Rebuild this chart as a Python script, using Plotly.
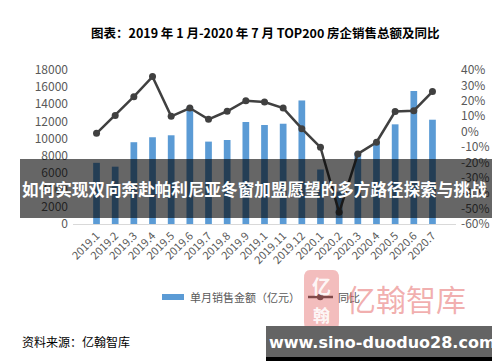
import plotly.graph_objects as go

categories = ["2019.1", "2019.2", "2019.3", "2019.4", "2019.5", "2019.6", "2019.7",
              "2019.8", "2019.9", "2019.10", "2019.11", "2019.12", "2020.1", "2020.2",
              "2020.3", "2020.4", "2020.5", "2020.6", "2020.7"]
tick_labels = ["2019.1", "2019.2", "2019.3", "2019.4", "2019.5", "2019.6", "2019.7",
               "2019.8", "2019.9", "2019.1", "2019.11", "2019.12", "2020.1", "2020.2",
               "2020.3", "2020.4", "2020.5", "2020.6", "2020.7"]
sales = [7150, 6700, 9560, 10140, 10370, 13660, 9630, 9820, 11920, 11570,
         11720, 14440, 6370, 3800, 8310, 9480, 11650, 15560, 12190]
yoy = [-0.011, 0.105, 0.227, 0.357, 0.099, 0.153, 0.08, 0.132, 0.201, 0.192,
       0.153, 0.019, -0.102, -0.524, -0.145, -0.069, 0.13, 0.136, 0.26]
left_ticks = [0, 2000, 4000, 6000, 8000, 10000, 12000, 14000, 16000, 18000]
left_tick_text = ["0", "2000", "4000", "6000", "8000", "10000", "12000", "14000", "16000", "18000"]
right_ticks = [-0.6, -0.5, -0.4, -0.3, -0.2, -0.1, 0, 0.1, 0.2, 0.3, 0.4]
right_tick_text = ["-60%", "-50%", "-40%", "-30%", "-20%", "-10%", "0%", "10%", "20%", "30%", "40%"]

title_text = "图表：2019 年 1 月-2020 年 7 月 TOP200 房企销售总额及同比"
bar_name = "单月销售金额（亿元）"
line_name = "同比"
source_text = "资料来源：亿翰智库"
banner_text = "如何实现双向奔赴帕利尼亚冬窗加盟愿望的多方路径探索与挑战"
site_text = "www.sino-duoduo28.com"
logo_text = "亿翰智库"

W, H = 500, 362
L, R, T, B = 65, 448, 62, 216
FONT = "Noto Sans CJK SC"
BLUE = "#5B9BD5"
LINE = "#404040"
GRAY = "#595959"


def px(x):
    return (x - L) / (R - L)


def py(y):
    return (B - y) / (B - T)


fig = go.Figure()
fig.add_trace(go.Bar(x=categories, y=sales, name=bar_name, marker_color=BLUE,
                     marker_line_width=0, yaxis="y", showlegend=False))
fig.add_trace(go.Scatter(x=categories, y=yoy, name=line_name, mode="lines+markers",
                         line=dict(color=LINE, width=2.5),
                         marker=dict(color=LINE, size=7), yaxis="y2", showlegend=False))

shapes = []
annotations = []

# title
annotations.append(dict(x=px(257), y=py(24), xref="paper", yref="paper", text="<b>" + title_text + "</b>",
                        showarrow=False, font=dict(family=FONT, size=12.5, color="#000000"),
                        xanchor="center", yanchor="middle"))

# legend (manual)
shapes.append(dict(type="rect", xref="paper", yref="paper", x0=px(154), x1=px(176), y0=py(286), y1=py(292),
                   fillcolor=BLUE, line=dict(width=0)))
annotations.append(dict(x=px(180), y=py(289), xref="paper", yref="paper", text=bar_name, showarrow=False,
                        font=dict(family=FONT, size=11, color=GRAY), xanchor="left", yanchor="middle"))
shapes.append(dict(type="line", xref="paper", yref="paper", x0=px(300), x1=px(325), y0=py(289), y1=py(289),
                   line=dict(color=LINE, width=2.5)))
shapes.append(dict(type="circle", xref="paper", yref="paper", x0=px(309), x1=px(315.5), y0=py(285.8), y1=py(292.2),
                   fillcolor=LINE, line=dict(width=0)))
annotations.append(dict(x=px(328), y=py(289), xref="paper", yref="paper", text=line_name, showarrow=False,
                        font=dict(family=FONT, size=11, color=GRAY), xanchor="left", yanchor="middle"))

# banner overlay
shapes.append(dict(type="rect", xref="paper", yref="paper", x0=px(12), x1=px(488), y0=py(151), y1=py(210),
                   fillcolor="rgba(0,0,0,0.6)", line=dict(width=0), layer="above"))
annotations.append(dict(x=px(12), y=py(181), xref="paper", yref="paper", text="<b>" + banner_text + "</b>",
                        showarrow=False, font=dict(family=FONT, size=16.6, color="#FFFFFF"),
                        xanchor="left", yanchor="middle"))

# logo watermark
shapes.append(dict(type="path", xref="paper", yref="paper",
                   path="M {a},{b} L {c},{b} Q {d},{b} {d},{e} L {d},{f} Q {d},{g} {c},{g} L {a},{g} Q {h},{g} {h},{f} L {h},{e} Q {h},{b} {a},{b} Z".format(
                       a=px(302), c=px(325), d=px(331), h=px(296), b=py(262), e=py(270), f=py(314), g=py(322)),
                   fillcolor="rgba(225,90,90,0.4)", line=dict(width=0), layer="above"))
annotations.append(dict(x=px(313.5), y=py(277), xref="paper", yref="paper", text="<b>亿</b>", showarrow=False,
                        font=dict(family=FONT, size=19, color="rgba(255,255,255,0.9)"), xanchor="center", yanchor="middle"))
annotations.append(dict(x=px(313.5), y=py(306), xref="paper", yref="paper", text="<b>翰</b>", showarrow=False,
                        font=dict(family=FONT, size=17, color="rgba(255,255,255,0.9)"), xanchor="center", yanchor="middle"))
annotations.append(dict(x=px(398), y=py(290), xref="paper", yref="paper", text=logo_text, showarrow=False,
                        font=dict(family=FONT, size=30, color="rgba(228,95,95,0.5)"), xanchor="center", yanchor="middle"))

# source
annotations.append(dict(x=px(12), y=py(333), xref="paper", yref="paper", text=source_text, showarrow=False,
                        font=dict(family=FONT, size=12, color="#000000"), xanchor="left", yanchor="middle"))

# site box
shapes.append(dict(type="rect", xref="paper", yref="paper", x0=px(258), x1=px(491), y0=py(318), y1=py(349),
                   fillcolor="#646464", line=dict(width=0), layer="above"))
shapes.append(dict(type="rect", xref="paper", yref="paper", x0=px(258), x1=px(491), y0=py(349), y1=py(353),
                   fillcolor="#000000", line=dict(width=0), layer="above"))
annotations.append(dict(x=px(374), y=py(334), xref="paper", yref="paper", text="<b>" + site_text + "</b>",
                        showarrow=False, font=dict(family="DejaVu Sans", size=16, color="#FFFFFF"),
                        xanchor="center", yanchor="middle"))

fig.update_layout(
    width=W, height=H, autosize=False,
    margin=dict(l=L, r=W - R, t=T, b=H - B, pad=0),
    paper_bgcolor="#FFFFFF", plot_bgcolor="#FFFFFF",
    bargap=0.64,
    showlegend=False,
    font=dict(family=FONT, color=GRAY),
    xaxis=dict(type="category", categoryorder="array", categoryarray=categories,
               tickvals=categories, ticktext=tick_labels, tickangle=-45,
               tickfont=dict(family=FONT, size=11, color=GRAY),
               showgrid=False, showline=True, linecolor="#D9D9D9", linewidth=1,
               ticks="", zeroline=False),
    yaxis=dict(range=[0, 18000], tickvals=left_ticks, ticktext=left_tick_text, showgrid=False,
               zeroline=False, showline=False, ticks="", tickfont=dict(family=FONT, size=12, color=GRAY),
               ticklabelstandoff=4),
    yaxis2=dict(range=[-0.6, 0.4], overlaying="y", side="right", tickvals=right_ticks,
                ticktext=right_tick_text, showgrid=False, zeroline=False, showline=False,
                ticks="", tickfont=dict(family=FONT, size=12, color=GRAY), ticklabelstandoff=4),
    shapes=shapes,
    annotations=annotations,
)

fig.write_html("out.html")
